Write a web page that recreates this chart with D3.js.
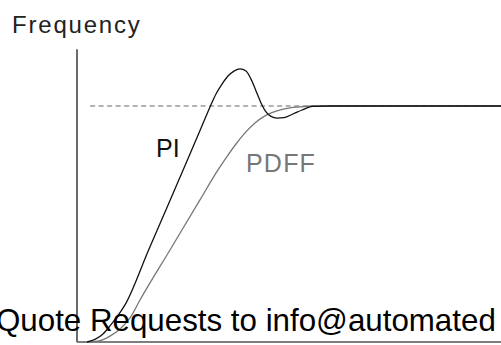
<!DOCTYPE html>
<html>
<head>
<meta charset="utf-8">
<script src="https://cdn.jsdelivr.net/npm/d3@7"></script>
<style>
  html, body { margin: 0; padding: 0; background: #fff; }
  svg { display: block; }
</style>
</head>
<body>
<svg id="chart" width="501" height="345"></svg>
<script>
// ---- data (time in % of window, frequency relative to set-point) ----
const piTime = [2.36, 4.25, 6.13, 7.78, 9.43, 11.32, 16.89, 20.97, 26.04, 29.95, 31.37, 32.78, 34.20, 35.61, 37.03, 38.44, 39.86, 41.04, 42.22, 43.40, 44.58, 45.75, 47.17, 48.82, 50.94, 53.07, 55.42, 59.67, 100];
const piFreq = [0.0, 0.011, 0.034, 0.068, 0.106, 0.157, 0.390, 0.559, 0.771, 0.936, 0.996, 1.051, 1.093, 1.127, 1.148, 1.157, 1.148, 1.114, 1.064, 1.013, 0.975, 0.956, 0.949, 0.951, 0.966, 0.983, 0.998, 1.0, 1.0];
const pdffTime = [2.36, 5.42, 7.78, 10.14, 12.5, 14.86, 21.93, 29.0, 33.25, 35.61, 37.5, 39.62, 41.98, 44.34, 47.17, 50.24, 52.59, 55.42, 100];
const pdffFreq = [0.0, 0.006, 0.025, 0.055, 0.102, 0.178, 0.390, 0.602, 0.729, 0.792, 0.839, 0.886, 0.928, 0.958, 0.979, 0.992, 0.996, 1.0, 1.0];
const setPoint = 1.0;
const setPointStart = 3.1;
const seriesLabels = ["PI", "PDFF"];
const yTitle = "Frequency";
const watermark = "Quote Requests to info@automated";

const svg = d3.select("#chart");
const x = d3.scaleLinear().domain([0, 100]).range([77, 501]);
const y = d3.scaleLinear().domain([0, 1]).range([342, 106]);
const yTop = 1.24;

// axes
svg.append("line")
  .attr("x1", x(0)).attr("x2", x(0))
  .attr("y1", y(0)).attr("y2", y(yTop))
  .attr("stroke", "#3a3a3a").attr("stroke-width", 1.5);
svg.append("line")
  .attr("x1", x(0)).attr("x2", x(100))
  .attr("y1", y(0)).attr("y2", y(0))
  .attr("stroke", "#555").attr("stroke-width", 1.5);

// set point dashed
svg.append("line")
  .attr("x1", x(setPointStart)).attr("x2", x(100))
  .attr("y1", y(setPoint)).attr("y2", y(setPoint))
  .attr("stroke", "#9a9a9a").attr("stroke-width", 1.5)
  .attr("stroke-dasharray", "5,3.5");

const line = d3.line().x(d => x(d[0])).y(d => y(d[1])).curve(d3.curveMonotoneX);

svg.append("path")
  .datum(pdffTime.map((t, i) => [t, pdffFreq[i]]))
  .attr("d", line).attr("fill", "none")
  .attr("stroke", "#777").attr("stroke-width", 1.3);

svg.append("path")
  .datum(piTime.map((t, i) => [t, piFreq[i]]))
  .attr("d", line).attr("fill", "none")
  .attr("stroke", "#111").attr("stroke-width", 1.3);

// texts
svg.append("text").text(yTitle)
  .attr("x", 12).attr("y", 33)
  .attr("font-family", "Liberation Sans, Arial, sans-serif")
  .attr("font-size", 24).attr("letter-spacing", 1.8)
  .attr("fill", "#222");

svg.append("text").text(seriesLabels[0])
  .attr("x", 156).attr("y", 157)
  .attr("font-family", "Liberation Sans, Arial, sans-serif")
  .attr("font-size", 25)
  .attr("fill", "#111");

svg.append("text").text(seriesLabels[1])
  .attr("x", 246).attr("y", 172)
  .attr("font-family", "Liberation Sans, Arial, sans-serif")
  .attr("font-size", 25).attr("letter-spacing", 1.2)
  .attr("fill", "#777");

svg.append("text").text(watermark)
  .attr("x", -4).attr("y", 331)
  .attr("font-family", "Liberation Sans, Arial, sans-serif")
  .attr("font-size", 31.3)
  .attr("fill", "#000");
</script>
</body>
</html>
